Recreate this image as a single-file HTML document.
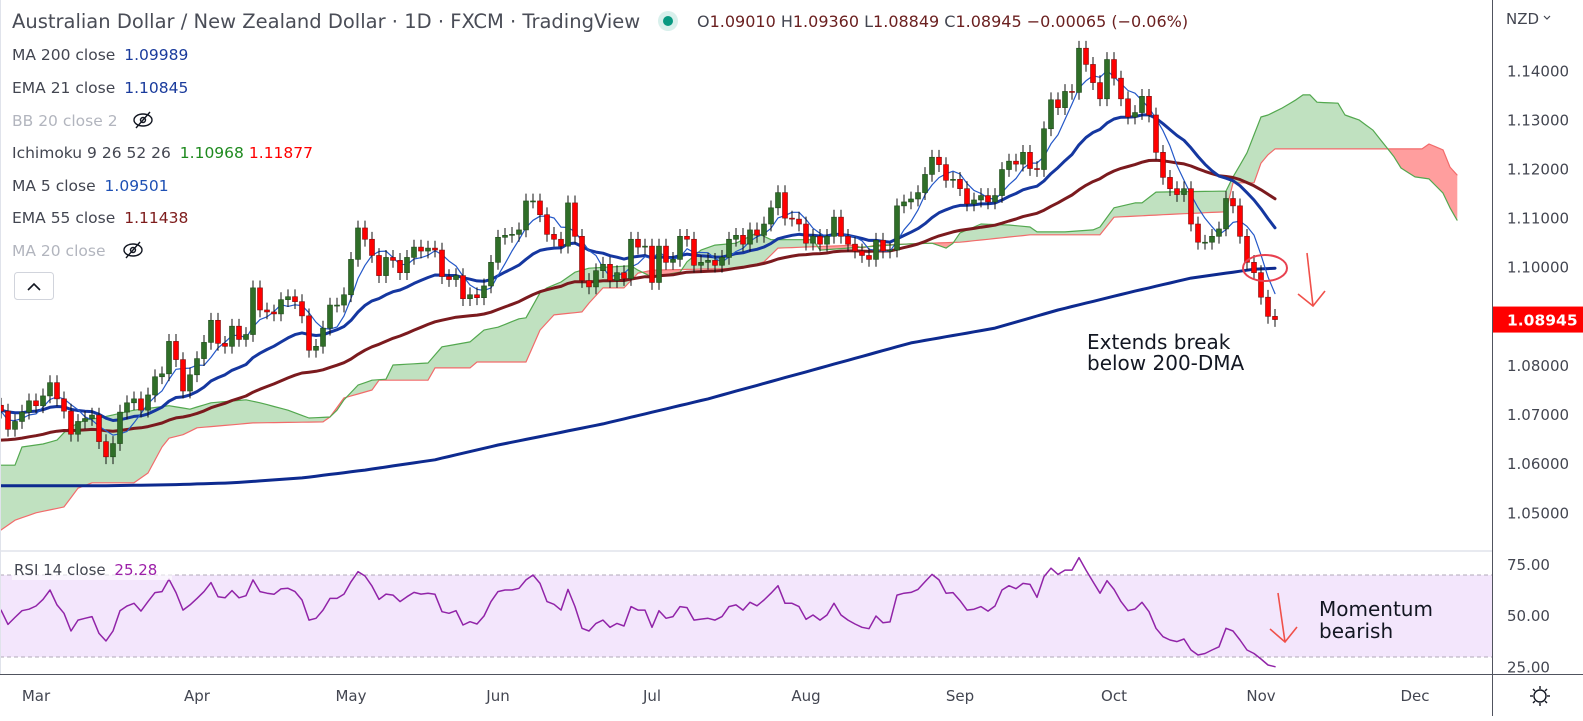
<!DOCTYPE html>
<html><head><meta charset="utf-8">
<style>
html,body{margin:0;padding:0;background:#fff;}
body{width:1583px;height:716px;overflow:hidden;font-family:"Liberation Sans","DejaVu Sans",sans-serif;}
svg text{font-family:"DejaVu Sans","Liberation Sans",sans-serif;}
</style></head>
<body>
<svg id="chart" width="1583" height="716" viewBox="0 0 1583 716" xmlns="http://www.w3.org/2000/svg">
  <rect x="0" y="0" width="1583" height="716" fill="#ffffff"/>
  <rect x="0" y="575" width="1492" height="82" fill="#f3e6fc"/>
  <line x1="0" y1="575" x2="1492" y2="575" stroke="#b0aab8" stroke-dasharray="4,3"/>
  <line x1="0" y1="657" x2="1492" y2="657" stroke="#b0aab8" stroke-dasharray="4,3"/>
  <g id="cloud"></g>
  <g id="lines"></g>
  <g id="candles"></g>
  <g id="rsi"></g>
  <line x1="0" y1="551" x2="1492" y2="551" stroke="#e0e3eb" stroke-width="1.5"/>
  <line x1="0" y1="674.5" x2="1583" y2="674.5" stroke="#50535e" stroke-width="1"/>
  <line x1="1492.5" y1="0" x2="1492.5" y2="716" stroke="#50535e" stroke-width="1"/>
  <line x1="0.5" y1="0" x2="0.5" y2="674" stroke="#e0e3eb"/>
  <g id="axes"></g>

  <text x="12" y="28" font-size="19.5" fill="#4a4d57">Australian Dollar / New Zealand Dollar · 1D · FXCM · TradingView</text>
  <circle cx="668" cy="21" r="10" fill="#d8f0ec"/>
  <circle cx="668" cy="21" r="5" fill="#089981"/>
  <text x="697" y="27" font-size="16" fill="#6b2020"><tspan fill="#434651">O</tspan>1.09010 <tspan fill="#434651">H</tspan>1.09360 <tspan fill="#434651">L</tspan>1.08849 <tspan fill="#434651">C</tspan>1.08945 −0.00065 (−0.06%)</text>

  <text x="12" y="60" font-size="15.5" fill="#434651">MA 200 close <tspan dx="4" fill="#1a3b9c">1.09989</tspan></text>
  <text x="12" y="93" font-size="15.5" fill="#434651">EMA 21 close <tspan dx="4" fill="#1a3b9c">1.10845</tspan></text>
  <text x="12" y="126" font-size="15.5" fill="#b2b5be">BB 20 close 2</text>
  <g transform="translate(143,120)">
    <ellipse cx="0" cy="0" rx="9" ry="6" fill="none" stroke="#131722" stroke-width="1.4"/>
    <circle cx="0" cy="0" r="2.5" fill="none" stroke="#131722" stroke-width="1.4"/>
    <line x1="-7" y1="8" x2="7" y2="-8" stroke="#131722" stroke-width="1.4"/>
  </g>
  <text x="12" y="158" font-size="15.5" fill="#434651">Ichimoku 9 26 52 26 <tspan dx="4" fill="#1e8a1e">1.10968</tspan><tspan dx="5" fill="#ff0000">1.11877</tspan></text>
  <text x="12" y="191" font-size="15.5" fill="#434651">MA 5 close <tspan dx="4" fill="#1e50b4">1.09501</tspan></text>
  <text x="12" y="223" font-size="15.5" fill="#434651">EMA 55 close <tspan dx="4" fill="#7d1b1b">1.11438</tspan></text>
  <text x="12" y="256" font-size="15.5" fill="#b2b5be">MA 20 close</text>
  <g transform="translate(133,250)">
    <ellipse cx="0" cy="0" rx="9" ry="6" fill="none" stroke="#131722" stroke-width="1.4"/>
    <circle cx="0" cy="0" r="2.5" fill="none" stroke="#131722" stroke-width="1.4"/>
    <line x1="-7" y1="8" x2="7" y2="-8" stroke="#131722" stroke-width="1.4"/>
  </g>
  <g>
    <rect x="14.5" y="272.5" width="39" height="27" rx="3" fill="#fff" stroke="#d1d4dc"/>
    <polyline points="28,290 34,284 40,290" fill="none" stroke="#131722" stroke-width="1.6"/>
  </g>

  <ellipse cx="1265" cy="268" rx="22" ry="13" fill="none" stroke="#e8404f" stroke-width="2"/>
  <g stroke="#f0504a" stroke-width="1.6" fill="none">
    <line x1="1307" y1="253" x2="1313" y2="306"/>
    <polyline points="1298,294 1313,306 1325,291"/>
  </g>
  <text x="1087" y="349" font-size="20" fill="#131722">Extends break</text>
  <text x="1087" y="370" font-size="20" fill="#131722">below 200-DMA</text>
  <g stroke="#f0504a" stroke-width="1.6" fill="none">
    <line x1="1278" y1="593" x2="1285" y2="642"/>
    <polyline points="1270,629 1285,642 1297,627"/>
  </g>
  <text x="1319" y="616" font-size="20" fill="#131722">Momentum</text>
  <text x="1319" y="638" font-size="20" fill="#131722">bearish</text>

  <rect x="12" y="558" width="160" height="22" fill="#ffffff" fill-opacity="0.6"/>
  <text x="14" y="575" font-size="15" fill="#434651">RSI 14 close <tspan dx="4" fill="#9c1fa8">25.28</tspan></text>

  <text x="1506" y="24" font-size="15" fill="#434651">NZD</text>
  <polyline points="1544,16 1547,19 1550,16" fill="none" stroke="#434651" stroke-width="1.2"/>
  <g transform="translate(1540,696)" stroke="#131722" stroke-width="1.4" fill="none">
    <circle cx="0" cy="0" r="6"/>
    <line x1="0" y1="-10" x2="0" y2="-7"/><line x1="0" y1="7" x2="0" y2="10"/>
    <line x1="-10" y1="0" x2="-7" y2="0"/><line x1="7" y1="0" x2="10" y2="0"/>
    <line x1="-7" y1="-7" x2="-5" y2="-5"/><line x1="5" y1="5" x2="7" y2="7"/>
    <line x1="-7" y1="7" x2="-5" y2="5"/><line x1="5" y1="-5" x2="7" y2="-7"/>
  </g>
</svg>
<script>
const closes = [1.0708,1.0671,1.0687,1.0706,1.0729,1.0719,1.0739,1.0766,1.0733,1.0708,
1.0661,1.0687,1.0693,1.0700,1.0646,1.0615,1.0642,1.0706,1.0725,1.0733,
1.0710,1.0741,1.0778,1.0784,1.0850,1.0813,1.0749,1.0782,1.0815,1.0848,
1.0893,1.0846,1.0840,1.0881,1.0854,1.0864,1.0959,1.0914,1.0910,1.0906,
1.0935,1.0941,1.0931,1.0902,1.0832,1.0840,1.0877,1.0924,1.0924,1.0945,
1.1017,1.1081,1.1058,1.1025,1.0984,1.1021,1.1015,1.0990,1.1021,1.1042,
1.1034,1.1040,1.1036,1.0982,1.0976,1.0984,1.0937,1.0945,1.0939,1.0963,
1.1011,1.1062,1.1066,1.1068,1.1077,1.1136,1.1136,1.1108,1.1068,1.1058,
1.1044,1.1132,1.1064,1.0974,1.0961,1.0994,1.1007,1.0974,1.0990,1.0978,
1.1058,1.1042,1.1044,1.0970,1.1044,1.1011,1.1017,1.1064,1.1058,1.1005,
1.1011,1.1015,1.1005,1.1021,1.1058,1.1066,1.1048,1.1077,1.1066,1.1089,
1.1122,1.1153,1.1101,1.1099,1.1089,1.1050,1.1064,1.1048,1.1064,1.1103,
1.1064,1.1048,1.1034,1.1025,1.1017,1.1056,1.1034,1.1036,1.1126,1.1134,
1.1140,1.1153,1.1190,1.1225,1.1210,1.1178,1.1180,1.1161,1.1130,1.1138,
1.1147,1.1134,1.1147,1.1200,1.1217,1.1211,1.1235,1.1202,1.1200,1.1283,
1.1342,1.1326,1.1359,1.1357,1.1447,1.1414,1.1377,1.1344,1.1424,1.1386,
1.1344,1.1307,1.1316,1.1349,1.1311,1.1235,1.1184,1.1161,1.1149,1.1161,
1.1089,1.1052,1.1052,1.1064,1.1079,1.1141,1.1126,1.1064,1.1011,1.0990,
1.0940,1.0901,1.08945];
const firstOpen = 1.0720;
const wickSize = 0.0015;

const rsiValues = [52.9,45.9,49.3,52.6,53.3,54.9,58.1,62.7,55.4,51.3,
42.7,48,48.9,49.7,41.5,37.8,42.7,52.6,54.9,56.2,
52.4,57,61.4,61.9,67.9,61.4,52.9,55.4,58.6,61.9,
66.3,59.4,58.9,62.4,58.9,59.9,67.6,61.9,61.1,60.6,
63.2,63.5,61.9,57.8,48,48.9,52.9,58.6,58.6,60.7,
66.7,71.6,69.5,64.6,58.1,60.7,60.2,57,59.4,61.5,
60.7,61.1,60.6,52.1,51.3,52.6,45.6,47.2,46.1,50,
57,61.9,62.7,62.7,63.5,67.6,70,65.9,57,55.7,
52.9,63,54.6,44,42.7,46.4,48,44.5,46.4,45.1,
54.6,52.9,52.9,44.5,52.6,48.9,49.7,54.6,54.1,48,
48.5,48.9,48,49.7,54.6,55.4,52.9,56.7,55,57.8,
61.1,64.8,56.2,56.2,54.6,48.4,50.5,48,50.5,56.2,
50.5,48,46.1,44.5,43.8,50,46.7,47.1,60.2,61.1,
61.5,63,66.7,70.3,67.6,61.1,61.4,57.5,52.9,53.3,
54.6,52.4,54.9,62.7,64.8,63.3,65.9,65.4,59.1,69.2,
73.3,70.3,72.4,72.4,78.5,72.4,66.7,61.1,67.2,63,
57,52.6,53.4,56.7,52.1,44,39.9,38.3,37.5,38.8,
33.4,31,31.7,33.4,35,44,42.7,38.3,33.4,31.7,
29,26.1,25.28];

const ma200Idx = [0,14,24,33,43,52,62,71,86,101,115,130,142,151,161,170,179,182];
const ma200Val = [1.0556,1.0556,1.0558,1.0562,1.0572,1.0588,1.0609,1.0639,1.0682,1.0733,1.0788,1.0847,1.0877,1.0914,1.0949,1.0979,1.0997,1.0999];

const spanAIdx = [0,2,3,6,8,9,10,12,14,19,24,27,30,35,37,41,44,47,48,49,51,53,55,56,61,63,67,69,71,74,75,77,78,80,82,84,90,91,93,97,98,100,102,105,108,110,116,117,123,129,133,135,136,137,140,144,147,148,152,156,157,159,162,163,165,175,176,177,178,180,181,183,185,186,187,188,191,192,194,196,198,199,200,202,204,206,207,208];
const spanAVal = [1.0598,1.0598,1.0635,1.0641,1.0649,1.0664,1.0676,1.0690,1.0694,1.0710,1.0719,1.0712,1.0725,1.0731,1.0725,1.0710,1.0694,1.0696,1.0710,1.0731,1.0761,1.0771,1.0773,1.0802,1.0806,1.0839,1.0849,1.0873,1.0879,1.0896,1.0898,1.0949,1.0959,1.0971,1.0991,1.0999,1.1004,1.0995,1.0981,1.0991,1.1012,1.1036,1.1046,1.1050,1.1071,1.1057,1.1057,1.1036,1.1042,1.1048,1.1050,1.1040,1.1050,1.1071,1.1089,1.1087,1.1083,1.1073,1.1073,1.1077,1.1083,1.1122,1.1132,1.1132,1.1154,1.1156,1.1185,1.1209,1.1234,1.1307,1.1311,1.1325,1.1342,1.1352,1.1352,1.1337,1.1335,1.1311,1.1301,1.1280,1.1244,1.1226,1.1203,1.1185,1.1181,1.1152,1.1122,1.1097];

const spanBIdx = [0,2,5,9,11,13,19,21,23,24,26,28,36,46,47,49,53,54,61,62,67,68,75,77,79,83,84,86,89,91,93,106,109,111,122,123,125,137,147,157,159,166,175,176,179,180,181,182,203,204,206,207,208];
const spanBVal = [1.0466,1.0486,1.0501,1.0513,1.0551,1.0562,1.0562,1.0582,1.0635,1.0653,1.0660,1.0674,1.0684,1.0686,1.0696,1.0735,1.0751,1.0771,1.0771,1.0796,1.0796,1.0808,1.0808,1.0873,1.0904,1.0910,1.0928,1.0959,1.0959,1.0989,1.0995,1.0999,1.1012,1.1040,1.1046,1.1040,1.1046,1.1052,1.1067,1.1067,1.1103,1.1108,1.1114,1.1173,1.1173,1.1213,1.1230,1.1242,1.1242,1.1252,1.1240,1.1205,1.1189];

const ema21Seed = 1.0710;
const ema55Seed = 1.0649;
const priceTicks = [1.05,1.06,1.07,1.08,1.09,1.10,1.11,1.12,1.13,1.14];
const priceTickLabels = ["1.05000","1.06000","1.07000","1.08000","1.09000","1.10000","1.11000","1.12000","1.13000","1.14000"];
const rsiTicks = [25,50,75];
const rsiTickLabels = ["25.00","50.00","75.00"];
const monthIdx = [5,28,50,71,93,115,137,159,180,202];
const monthLabels = ["Mar","Apr","May","Jun","Jul","Aug","Sep","Oct","Nov","Dec"];
const lastPrice = 1.08945;
const lastPriceLabel = "1.08945";

const NS = "http://www.w3.org/2000/svg";
function xOf(i){ return 1 + 7*i; }
function yP(p){ return 71.3 + (1.14 - p)*4911; }
function yR(v){ return 575 + (70 - v)*2.05; }
function mk(tag, attrs, parent){
  const e = document.createElementNS(NS, tag);
  for (const k in attrs) e.setAttribute(k, attrs[k]);
  parent.appendChild(e); return e;
}
function interp(idx, val, n){
  const out = [];
  for (let i=0;i<n;i++){
    let k=0; while (k < idx.length-2 && idx[k+1] < i) k++;
    const i0=idx[k], i1=idx[k+1];
    const t = i1===i0 ? 0 : Math.max(0, Math.min(1, (i-i0)/(i1-i0)));
    out.push(val[k] + (val[k+1]-val[k])*t);
  }
  return out;
}

const cloudG = document.getElementById('cloud');
const nCloud = Math.max(spanAIdx[spanAIdx.length-1], spanBIdx[spanBIdx.length-1]) + 1;
const A = interp(spanAIdx, spanAVal, nCloud);
const B = interp(spanBIdx, spanBVal, nCloud);
for (let i=0;i<nCloud-1;i++){
  const up = (A[i]+A[i+1]) >= (B[i]+B[i+1]);
  const poly = mk('polygon', {
    points: `${xOf(i)},${yP(A[i])} ${xOf(i+1)},${yP(A[i+1])} ${xOf(i+1)},${yP(B[i+1])} ${xOf(i)},${yP(B[i])}`,
    fill: up ? '#c0e1c0' : '#ff9e9e', stroke: up ? '#c0e1c0' : '#ff9e9e', 'stroke-width': 0.6
  }, cloudG);
  
  
}
function polyline(vals, startIdx, color, width, name, parent, yfn){
  const pts = vals.map((v,k)=> `${xOf(startIdx+k).toFixed(1)},${yfn(v).toFixed(1)}`).join(' ');
  const pl = mk('polyline', {points: pts, fill:'none', stroke: color, 'stroke-width': width, 'stroke-linejoin':'round', 'stroke-linecap':'round'}, parent);
  
  
  return pl;
}
polyline(B, 0, '#f26b6b', 1.2, 'ichimoku-span-b', cloudG, yP);
polyline(A, 0, '#53a84f', 1.2, 'ichimoku-span-a', cloudG, yP);

const linesG = document.getElementById('lines');
const N = closes.length;
const ma200 = interp(ma200Idx, ma200Val, N);
const ema21 = [], ema55 = [], ma5 = [];
let e21 = ema21Seed, e55 = ema55Seed;
for (let i=0;i<N;i++){
  if (i>0){ e21 = e21 + (closes[i]-e21)*2/22; e55 = e55 + (closes[i]-e55)*2/56; }
  ema21.push(e21); ema55.push(e55);
  let s=0,c=0; for (let k=Math.max(0,i-4);k<=i;k++){ s+=closes[k]; c++; }
  ma5.push(s/c);
}
polyline(ma200, 0, '#0d2a8f', 3, 'ma200-line', linesG, yP);
polyline(ema55, 0, '#7b1a1e', 3, 'ema55-line', linesG, yP);
polyline(ema21, 0, '#1537a0', 3, 'ema21-line', linesG, yP);
polyline(ma5, 0, '#2458c8', 1.2, 'ma5-line', linesG, yP);

const cg = document.getElementById('candles');
for (let i=0;i<N;i++){
  const o = i===0 ? firstOpen : closes[i-1];
  const c = closes[i];
  const hi = Math.max(o,c) + wickSize, lo = Math.min(o,c) - wickSize;
  const x = xOf(i);
  const up = c >= o;
  const w = mk('line', {x1:x, x2:x, y1:yP(hi), y2:yP(lo), stroke:'#111', 'stroke-width':1}, cg);
  
  
  const top = yP(Math.max(o,c)), bot = yP(Math.min(o,c));
  const r = mk('rect', {x:x-2.5, y:top, width:5, height:Math.max(1, bot-top),
    fill: up ? '#2f6e28' : '#ff0000', stroke: up ? '#1f4a1a' : '#7a1010', 'stroke-width':0.6}, cg);
  
  
}

const rg = document.getElementById('rsi');
polyline(rsiValues, 0, '#9124a8', 1.5, 'rsi-line', rg, yR);

const ag = document.getElementById('axes');
priceTicks.forEach((p,k)=>{
  const t = mk('text', {x:1507, y:yP(p)+5, 'font-size':15, fill:'#434651'}, ag);
  t.textContent = priceTickLabels[k];
  
  
});
rsiTicks.forEach((v,k)=>{
  const t = mk('text', {x:1507, y:yR(v)+5, 'font-size':15, fill:'#434651'}, ag);
  t.textContent = rsiTickLabels[k];
  
  
});
monthIdx.forEach((m,k)=>{
  const t = mk('text', {x:xOf(m), y:701, 'font-size':15, fill:'#434651', 'text-anchor':'middle'}, ag);
  t.textContent = monthLabels[k];
  
  
});
const badge = mk('rect', {x:1493, y:yP(lastPrice)-13, width:90, height:26, fill:'#ff0000'}, ag);


const bt = mk('text', {x:1507, y:yP(lastPrice)+6, 'font-size':15.5, fill:'#ffffff', 'font-weight':'bold'}, ag);
bt.textContent = lastPriceLabel;


</script>
</body></html>
